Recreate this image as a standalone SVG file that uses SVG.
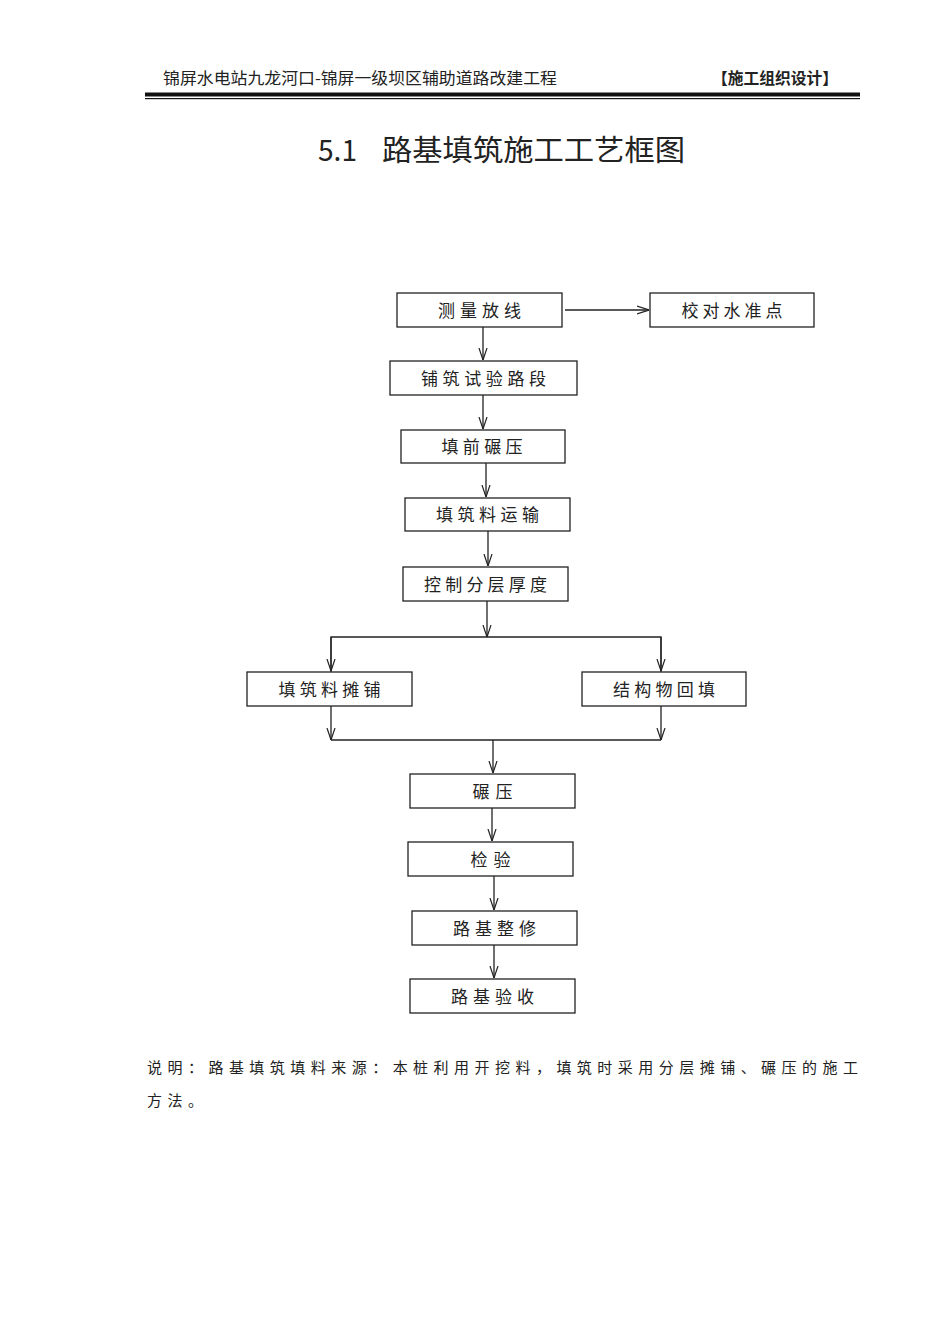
<svg xmlns="http://www.w3.org/2000/svg" width="950" height="1344" viewBox="0 0 950 1344">
<defs>
<style>
.bx{fill:#fff;stroke:#222;stroke-width:1.3}
.bt{font-family:"Noto Sans CJK SC","Liberation Sans",sans-serif;font-size:17px;fill:#222;text-anchor:middle}
.ln{fill:none;stroke:#222;stroke-width:1.3}
.hd{font-family:"Noto Sans CJK SC","Liberation Serif",serif;font-size:16px;fill:#222}
.tt{font-family:"Noto Sans CJK SC","Liberation Sans",sans-serif;font-size:29px;fill:#222}
</style>
<marker id="ar" viewBox="0 0 12 10" refX="12" refY="5" markerWidth="12" markerHeight="10" markerUnits="userSpaceOnUse" orient="auto">
<path d="M0,1 L12,5 L0,9" fill="none" stroke="#222" stroke-width="1.2"/>
</marker>
</defs>
<rect width="950" height="1344" fill="#fff"/>
<g id="header">
<text class="hd" x="163" y="84" textLength="394" lengthAdjust="spacingAndGlyphs">锦屏水电站九龙河口-锦屏一级坝区辅助道路改建工程</text>
<text class="hd" x="712" y="84" font-weight="bold" textLength="126" lengthAdjust="spacingAndGlyphs">【施工组织设计】</text>
<rect x="145" y="92.5" width="715" height="4" fill="#111"/>
<rect x="145" y="98" width="715" height="1.2" fill="#111"/>
</g>
<g id="title">
<text class="tt" x="318" y="161" textLength="39" lengthAdjust="spacingAndGlyphs">5.1</text>
<text class="tt" x="382" y="161" textLength="303" lengthAdjust="spacingAndGlyphs">路基填筑施工工艺框图</text>
</g>
<g id="connectors">
<line class="ln" x1="565" y1="310" x2="649" y2="310" marker-end="url(#ar)"/>
<line class="ln" x1="483" y1="327" x2="483" y2="360" marker-end="url(#ar)"/>
<line class="ln" x1="483" y1="395" x2="483" y2="429" marker-end="url(#ar)"/>
<line class="ln" x1="486" y1="463" x2="486" y2="497" marker-end="url(#ar)"/>
<line class="ln" x1="488" y1="531" x2="488" y2="566" marker-end="url(#ar)"/>
<line class="ln" x1="487" y1="601" x2="487" y2="637" marker-end="url(#ar)"/>
<polyline class="ln" points="331,672 331,637 661,637 661,672"/>
<line class="ln" x1="331" y1="637" x2="331" y2="671" marker-end="url(#ar)"/>
<line class="ln" x1="661" y1="637" x2="661" y2="671" marker-end="url(#ar)"/>
<line class="ln" x1="331" y1="706" x2="331" y2="740" marker-end="url(#ar)"/>
<line class="ln" x1="661" y1="706" x2="661" y2="740" marker-end="url(#ar)"/>
<line class="ln" x1="331" y1="740" x2="661" y2="740"/>
<line class="ln" x1="493" y1="740" x2="493" y2="773" marker-end="url(#ar)"/>
<line class="ln" x1="492" y1="808" x2="492" y2="841" marker-end="url(#ar)"/>
<line class="ln" x1="494" y1="876" x2="494" y2="910" marker-end="url(#ar)"/>
<line class="ln" x1="494" y1="945" x2="494" y2="978" marker-end="url(#ar)"/>
</g>
<g id="n1"><rect class="bx" x="397" y="293" width="165" height="34"/><text class="bt" x="479.5" y="317" textLength="83" lengthAdjust="spacing">测量放线</text></g>
<g id="n2"><rect class="bx" x="650" y="293" width="164" height="34"/><text class="bt" x="732" y="317" textLength="101" lengthAdjust="spacing">校对水准点</text></g>
<g id="n3"><rect class="bx" x="390" y="361" width="187" height="34"/><text class="bt" x="483.5" y="385" textLength="125" lengthAdjust="spacing">铺筑试验路段</text></g>
<g id="n4"><rect class="bx" x="401" y="430" width="164" height="33"/><text class="bt" x="482" y="453" textLength="81" lengthAdjust="spacing">填前碾压</text></g>
<g id="n5"><rect class="bx" x="405" y="498" width="165" height="33"/><text class="bt" x="487.5" y="521" textLength="103" lengthAdjust="spacing">填筑料运输</text></g>
<g id="n6"><rect class="bx" x="403" y="567" width="165" height="34"/><text class="bt" x="485.5" y="591" textLength="123" lengthAdjust="spacing">控制分层厚度</text></g>
<g id="n7"><rect class="bx" x="247" y="672" width="165" height="34"/><text class="bt" x="329.5" y="696" textLength="102" lengthAdjust="spacing">填筑料摊铺</text></g>
<g id="n8"><rect class="bx" x="582" y="672" width="164" height="34"/><text class="bt" x="664" y="696" textLength="102" lengthAdjust="spacing">结构物回填</text></g>
<g id="n9"><rect class="bx" x="410" y="774" width="165" height="34"/><text class="bt" x="492.5" y="798" textLength="40" lengthAdjust="spacing">碾压</text></g>
<g id="n10"><rect class="bx" x="408" y="842" width="165" height="34"/><text class="bt" x="490.5" y="866" textLength="40" lengthAdjust="spacing">检验</text></g>
<g id="n11"><rect class="bx" x="412" y="911" width="165" height="34"/><text class="bt" x="494.5" y="935" textLength="83" lengthAdjust="spacing">路基整修</text></g>
<g id="n12"><rect class="bx" x="410" y="979" width="165" height="34"/><text class="bt" x="492.5" y="1003" textLength="83" lengthAdjust="spacing">路基验收</text></g>
<g id="note" font-family="'Noto Sans CJK SC','Liberation Sans',sans-serif" font-size="15" fill="#222">
<text x="147" y="1073" textLength="711" lengthAdjust="spacing">说明：路基填筑填料来源：本桩利用开挖料，填筑时采用分层摊铺、碾压的施工</text>
<text x="147" y="1106" textLength="56" lengthAdjust="spacing">方法。</text>
</g>
</svg>
